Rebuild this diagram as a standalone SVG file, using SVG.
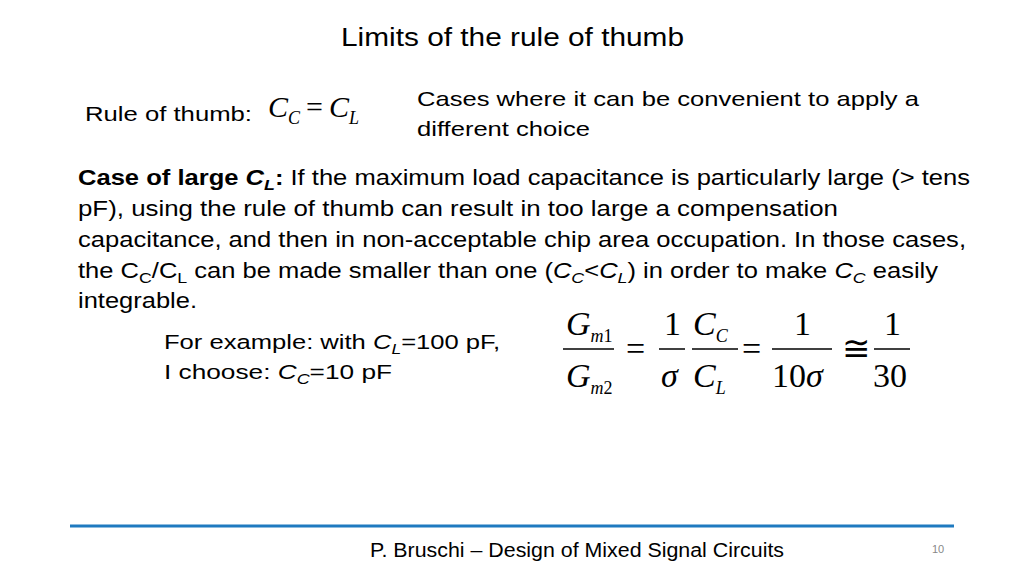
<svg xmlns="http://www.w3.org/2000/svg" width="1024" height="576" viewBox="0 0 1024 576">
<style>
.s{font-family:"Liberation Sans",Arial,sans-serif;fill:#000}
.m{font-family:"Liberation Serif","Times New Roman",serif;fill:#000}
.i{font-style:italic}
</style>
<rect width="1024" height="576" fill="#fff"/>
<text class="s" x="341" y="46" font-size="25" textLength="343" lengthAdjust="spacingAndGlyphs">Limits of the rule of thumb</text>
<text class="s" x="85" y="121" font-size="20" textLength="167" lengthAdjust="spacingAndGlyphs">Rule of thumb:</text>
<text class="m i" x="268" y="117" font-size="30">C<tspan font-size="18" dy="7">C</tspan><tspan dy="-7" dx="6" font-style="normal">=</tspan><tspan dx="6">C</tspan><tspan font-size="18" dy="7">L</tspan></text>
<text class="s" x="417" y="106" font-size="21" textLength="502" lengthAdjust="spacingAndGlyphs">Cases where it can be convenient to apply a</text>
<text class="s" x="417" y="136" font-size="21" textLength="173" lengthAdjust="spacingAndGlyphs">different choice</text>
<g class="s" font-size="21.5">
<text x="78" y="185" textLength="892" lengthAdjust="spacingAndGlyphs"><tspan font-weight="bold">Case of large <tspan class="i">C</tspan><tspan class="i" font-size="15" dy="5">L</tspan></tspan><tspan dy="-5" font-weight="bold">:</tspan> If the maximum load capacitance is particularly large (&gt; tens</text>
<text x="78" y="216" textLength="760" lengthAdjust="spacingAndGlyphs">pF), using the rule of thumb can result in too large  a compensation</text>
<text x="78" y="247" textLength="888" lengthAdjust="spacingAndGlyphs">capacitance, and then in non-acceptable chip area occupation. In those cases,</text>
<text x="78" y="278" textLength="860" lengthAdjust="spacingAndGlyphs">the C<tspan font-size="15" dy="5">C</tspan><tspan dy="-5">/C</tspan><tspan font-size="15" dy="5">L</tspan><tspan dy="-5"> can be made smaller than one (</tspan><tspan class="i">C</tspan><tspan class="i" font-size="15" dy="5">C</tspan><tspan dy="-5">&lt;</tspan><tspan class="i">C</tspan><tspan class="i" font-size="15" dy="5">L</tspan><tspan dy="-5">) in order to make </tspan><tspan class="i">C</tspan><tspan class="i" font-size="15" dy="5">C</tspan><tspan dy="-5"> easily</tspan></text>
<text x="78" y="308" textLength="119" lengthAdjust="spacingAndGlyphs">integrable.</text>
</g>
<g class="s" font-size="20.5">
<text x="164" y="349" textLength="336" lengthAdjust="spacingAndGlyphs">For example: with <tspan class="i">C</tspan><tspan class="i" font-size="14" dy="5">L</tspan><tspan dy="-5">=100 pF,</tspan></text>
<text x="164" y="379" textLength="228" lengthAdjust="spacingAndGlyphs">I choose:  <tspan class="i">C</tspan><tspan class="i" font-size="14" dy="5">C</tspan><tspan dy="-5">=10 pF</tspan></text>
</g>
<g class="m" font-size="34">
<text x="566" y="335" class="i">G<tspan font-size="18" dy="7">m</tspan><tspan font-size="18" font-style="normal">1</tspan></text>
<text x="566" y="387" class="i">G<tspan font-size="18" dy="7">m</tspan><tspan font-size="18" font-style="normal">2</tspan></text>
<text x="626" y="360">=</text>
<text x="664" y="335">1</text>
<text x="661" y="387" class="i">σ</text>
<text x="693" y="335" class="i">C<tspan font-size="18" dy="7">C</tspan></text>
<text x="693" y="387" class="i">C<tspan font-size="18" dy="7">L</tspan></text>
<text x="742" y="360">=</text>
<text x="794" y="335">1</text>
<text x="772" y="387">10<tspan class="i">σ</tspan></text>
<text x="842" y="360">≅</text>
<text x="884" y="335">1</text>
<text x="873" y="387">30</text>
</g>
<g stroke="#000" stroke-width="1.5">
<line x1="563" y1="349" x2="614" y2="349"/>
<line x1="659" y1="349" x2="685" y2="349"/>
<line x1="692" y1="349" x2="738" y2="349"/>
<line x1="772" y1="349" x2="832" y2="349"/>
<line x1="874" y1="349" x2="910" y2="349"/>
</g>
<line x1="70" y1="526" x2="954" y2="526" stroke="#1f7ac0" stroke-width="3"/>
<text class="s" x="370" y="557" font-size="20" textLength="414" lengthAdjust="spacingAndGlyphs">P. Bruschi – Design of Mixed Signal Circuits</text>
<text class="s" x="932" y="553" font-size="11" style="fill:#888">10</text>
</svg>
